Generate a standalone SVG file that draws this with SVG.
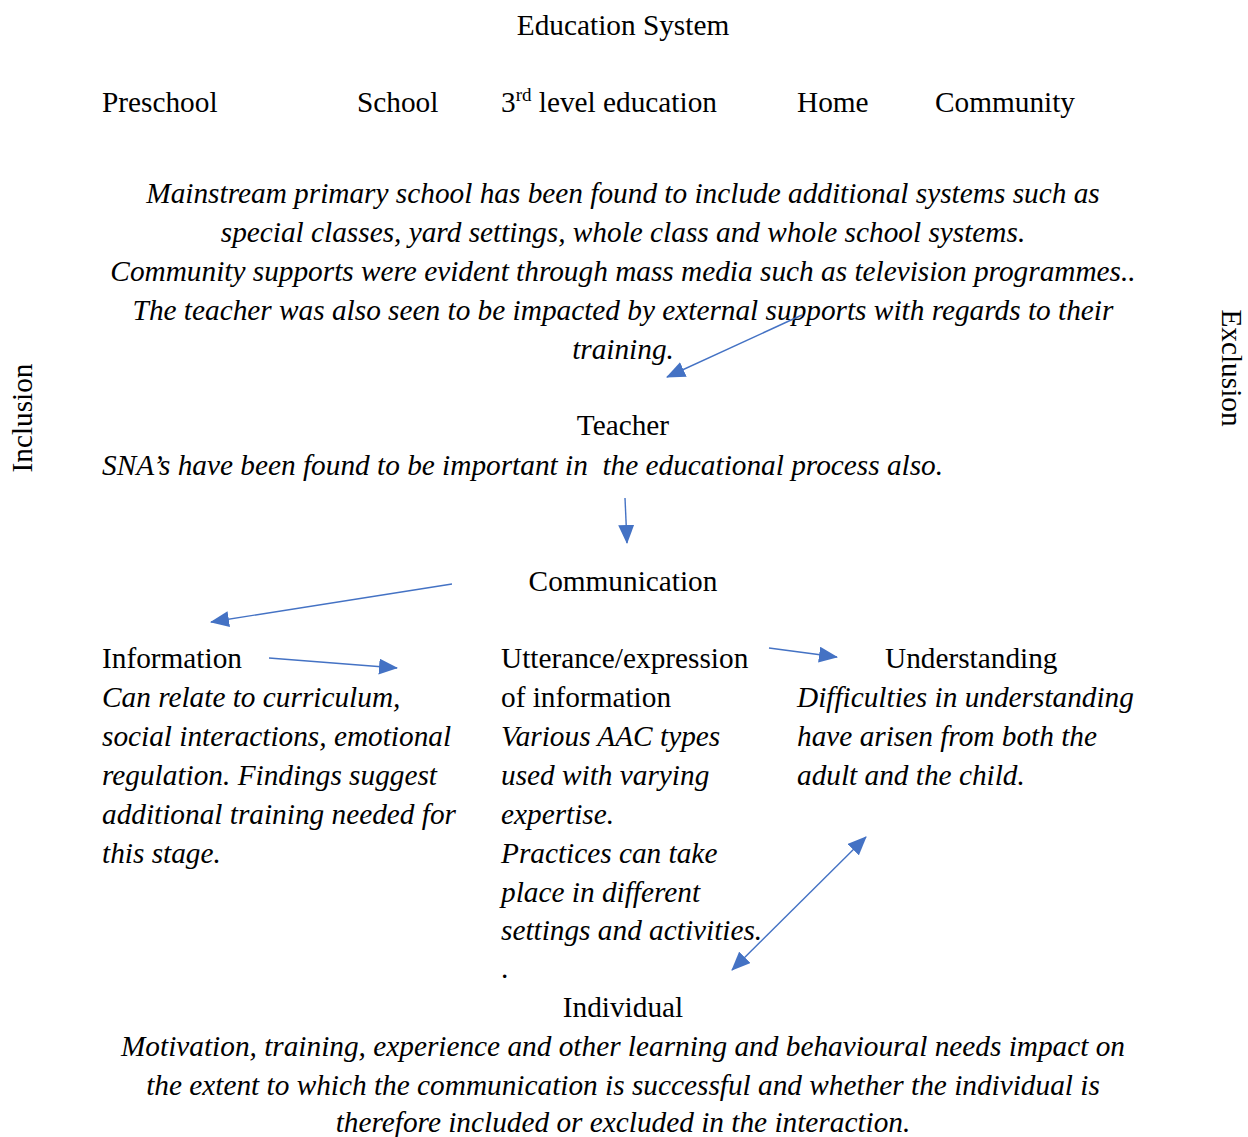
<svg xmlns="http://www.w3.org/2000/svg" width="1248" height="1137" viewBox="0 0 1248 1137">
<style>
text{font-family:"Liberation Serif","Times New Roman",serif;font-size:29.3px;fill:#000;white-space:pre}
.i{font-style:italic}
.m{text-anchor:middle}
.c{stroke:#4472C4;stroke-width:1.4;fill:none}
</style>
<defs>
<marker id="ah" markerUnits="userSpaceOnUse" markerWidth="20" markerHeight="16" refX="18" refY="8" orient="auto-start-reverse" viewBox="0 0 20 16">
<path d="M0,0 L19,8 L0,16 Z" fill="#4472C4"/>
</marker>
</defs>
<rect width="1248" height="1137" fill="#fff"/>
<g id="title"><text class="m" x="623" y="35">Education System</text></g>
<g id="preschool"><text x="102" y="112">Preschool</text></g>
<g id="school"><text x="357" y="112">School</text></g>
<g id="third-level"><text x="501" y="112">3<tspan font-size="19" dy="-11">rd</tspan><tspan dy="11"> level education</tspan></text></g>
<g id="home"><text x="797" y="112">Home</text></g>
<g id="community"><text x="935" y="112">Community</text></g>
<g id="systems">
<text class="i m" x="623" y="203">Mainstream primary school has been found to include additional systems such as</text>
<text class="i m" x="623" y="242">special classes, yard settings, whole class and whole school systems.</text>
<text class="i m" x="623" y="281">Community supports were evident through mass media such as television programmes..</text>
<text class="i m" x="623" y="320">The teacher was also seen to be impacted by external supports with regards to their</text>
<text class="i m" x="623" y="359">training.</text>
</g>
<g id="inclusion"><text class="m" transform="translate(32,418) rotate(-90)">Inclusion</text></g>
<g id="exclusion"><text class="m" transform="translate(1222,368) rotate(90)">Exclusion</text></g>
<g id="teacher">
<text class="m" x="623" y="435">Teacher</text>
<text class="i" x="102" y="475">SNA’s have been found to be important in  the educational process also.</text>
</g>
<g id="communication"><text class="m" x="623" y="591">Communication</text></g>
<g id="information">
<text x="102" y="668">Information</text>
<text class="i" x="102" y="707">Can relate to curriculum,</text>
<text class="i" x="102" y="746">social interactions, emotional</text>
<text class="i" x="102" y="785">regulation. Findings suggest</text>
<text class="i" x="102" y="824">additional training needed for</text>
<text class="i" x="102" y="863">this stage.</text>
</g>
<g id="utterance">
<text x="501" y="668">Utterance/expression</text>
<text x="501" y="707">of information</text>
<text class="i" x="501" y="746">Various AAC types</text>
<text class="i" x="501" y="785">used with varying</text>
<text class="i" x="501" y="824">expertise.</text>
<text class="i" x="501" y="863">Practices can take</text>
<text class="i" x="501" y="902">place in different</text>
<text class="i" x="501" y="940">settings and activities.</text>
<text x="501" y="978">.</text>
</g>
<g id="understanding">
<text x="885" y="668">Understanding</text>
<text class="i" x="797" y="707">Difficulties in understanding</text>
<text class="i" x="797" y="746">have arisen from both the</text>
<text class="i" x="797" y="785">adult and the child.</text>
</g>
<g id="individual">
<text class="m" x="623" y="1017">Individual</text>
<text class="i m" x="623" y="1056">Motivation, training, experience and other learning and behavioural needs impact on</text>
<text class="i m" x="623" y="1095">the extent to which the communication is successful and whether the individual is</text>
<text class="i m" x="623" y="1132">therefore included or excluded in the interaction.</text>
</g>
<g id="connectors">
<line class="c" x1="802" y1="315" x2="667" y2="377" marker-end="url(#ah)"/>
<line class="c" x1="625" y1="498" x2="627" y2="543" marker-end="url(#ah)"/>
<line class="c" x1="452" y1="584" x2="211" y2="622" marker-end="url(#ah)"/>
<line class="c" x1="269" y1="658" x2="397" y2="668" marker-end="url(#ah)"/>
<line class="c" x1="769" y1="648" x2="837" y2="657" marker-end="url(#ah)"/>
<line class="c" x1="732" y1="970" x2="866" y2="837" marker-start="url(#ah)" marker-end="url(#ah)"/>
</g>
</svg>
